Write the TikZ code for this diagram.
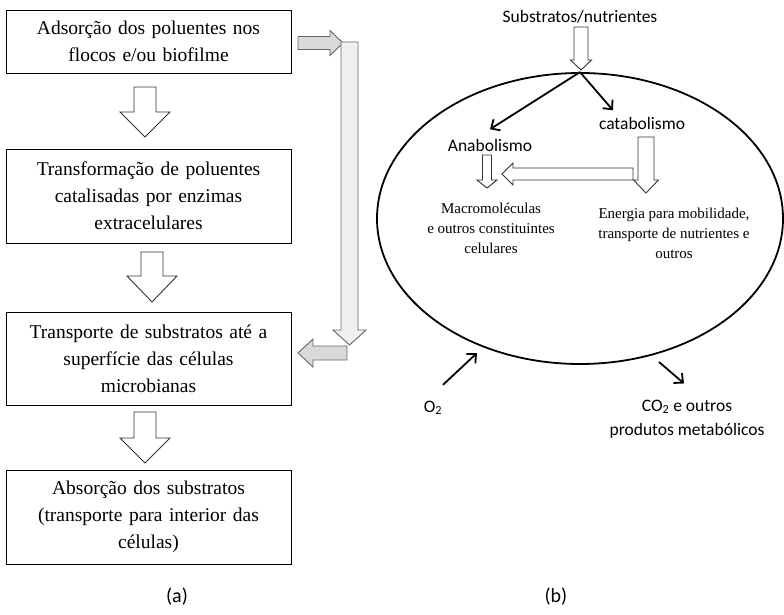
\documentclass[tikz,border=0pt]{standalone}
\usepackage{fontspec}
\setmainfont{Liberation Serif}
\newfontfamily\calibri{Carlito}
\usetikzlibrary{arrows.meta,shapes.geometric}

\begin{document}
\begin{tikzpicture}[x=1pt,y=-1pt,>={Straight Barb[length=7pt,width=13pt]},
    stage box/.style={draw,line width=0.9pt,minimum width=285pt,text width=275pt,
                      align=center,inner sep=0pt,font=\fontsize{19.5}{27}\selectfont},
    hollow/.style={draw=black!80,fill=white,line width=0.9pt},
    gray arrow/.style={draw=black!60,fill=black!15,line width=0.9pt},
    cell text/.style={align=center,inner sep=1pt,font=\fontsize{15}{20}\selectfont},
    label text/.style={align=center,inner sep=1pt,font=\calibri\fontsize{17.5}{24.5}\selectfont},
    thin arrow/.style={->,line width=1.8pt}]
  \useasboundingbox (0,0) rectangle (784,615);

  % (a) etapas
  \node[stage box,minimum height=63] (adsorcao) at (148.5,41.5)
    {Adsorção dos poluentes nos\\flocos e/ou biofilme};
  \node[stage box,minimum height=94] (transform) at (148.5,196)
    {Transformação de poluentes\\catalisadas por enzimas\\extracelulares};
  \node[stage box,minimum height=93] (transporte) at (148.5,358.5)
    {Transporte de substratos até a\\superfície das células\\microbianas};
  \node[stage box,minimum height=94] (absorcao) at (148.5,517)
    {Absorção dos substratos\\(transporte para interior das\\células)};

  \draw[hollow] (134,87) -- (156,87) -- (156,112) -- (170,112) -- (145,137)
    -- (120,112) -- (134,112) -- cycle;
  \draw[hollow] (141,252) -- (163,252) -- (163,276) -- (177,276) -- (152,302)
    -- (127,276) -- (141,276) -- cycle;
  \draw[hollow] (134,412) -- (156,412) -- (156,438) -- (170,438) -- (145,463)
    -- (120,438) -- (134,438) -- cycle;

  % desvio lateral
  \draw[gray arrow] (298,36.5) -- (330,36.5) -- (330,30.5) -- (343,43)
    -- (330,55.5) -- (330,49.5) -- (298,49.5) -- cycle;
  \draw[gray arrow,fill=black!6] (341,42) -- (358,42) -- (358,330) -- (366,330)
    -- (349.5,345) -- (333,330) -- (341,330) -- cycle;
  \draw[gray arrow] (347,346) -- (313,346) -- (313,339) -- (298,353)
    -- (313,367) -- (313,360) -- (347,360) -- cycle;

  % (b) celula
  \node[draw,ellipse,line width=1.8pt,minimum width=406,minimum height=291,
        inner sep=0pt] (cell) at (580,218.5) {};

  \node[label text] (subs) at (580,17) {Substratos/nutrientes};
  \node[label text] (ana) at (490,145) {Anabolismo};
  \node[label text] (cat) at (642,123) {catabolismo};
  \node[cell text] (macro) at (491,228)
    {Macromoléculas\\e outros constituintes\\celulares};
  \node[cell text] (energia) at (674,233)
    {Energia para mobilidade,\\transporte de nutrientes e\\outros};
  \node[label text] (o2) at (433,408) {O\textsubscript{2}};
  \node[label text] (co2) at (687,419) {CO\textsubscript{2} e outros\\produtos metabólicos};

  \draw[hollow] (574,27) -- (588,27) -- (588,60) -- (591.5,60) -- (581,70)
    -- (570.5,60) -- (574,60) -- cycle;
  \draw[hollow] (482.5,155) -- (491.5,155) -- (491.5,180) -- (497,180) -- (487,188)
    -- (477,180) -- (482.5,180) -- cycle;
  \draw[hollow] (633,168) -- (513,168) -- (513,163) -- (502,174) -- (513,185)
    -- (513,180) -- (633,180) -- cycle;
  \draw[hollow] (638,137) -- (654,137) -- (654,180) -- (658.5,180) -- (646,193)
    -- (633.5,180) -- (638,180) -- cycle;

  \coordinate (o2in) at (477,353);
  \coordinate (co2out) at (659,362);
  \draw[thin arrow] (cell.north) -- ([yshift=8.4pt]ana.north);
  \draw[thin arrow] (cell.north) -- ([xshift=-29pt,yshift=5.4pt]cat.north);
  \draw[thin arrow] ([xshift=10pt,yshift=15pt]o2.north) -- (o2in);
  \draw[thin arrow] (co2out) -- ([xshift=-3pt,yshift=15pt]co2.north);

  \node[font=\calibri\fontsize{20}{24}\selectfont] (capa) at (177,597) {(a)};
  \node[font=\calibri\fontsize{20}{24}\selectfont] (capb) at (556,597) {(b)};
\end{tikzpicture}
\end{document}
